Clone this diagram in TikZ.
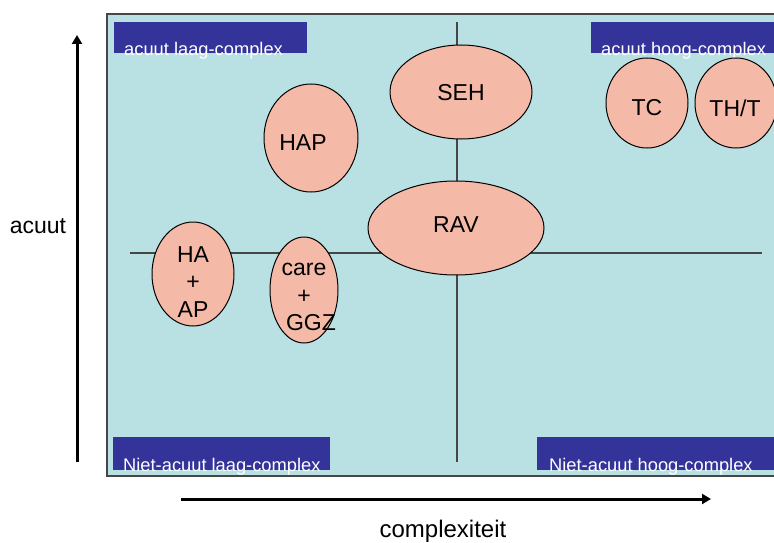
\documentclass[tikz,border=0pt]{standalone}
\usepackage{fontspec}
\setmainfont{Liberation Sans}
\usetikzlibrary{arrows.meta,shapes.geometric}
\definecolor{bgcyan}{RGB}{185,224,227}
\definecolor{boxblue}{RGB}{51,51,153}
\definecolor{salmon}{RGB}{245,185,168}
\definecolor{framegray}{RGB}{70,70,70}
\tikzset{
  oval/.style={ellipse, draw=black, line width=1pt, fill=salmon, inner sep=0pt},
  big/.style={font=\fontsize{23}{27.5}\selectfont, text=black, align=center, inner sep=0pt},
  quadbox/.style={fill=boxblue, draw=none},
  quadtext/.style={font=\fontsize{18.3}{20}\selectfont, text=white, anchor=base west, inner sep=0pt},
  axisline/.style={draw=framegray, line width=1.4pt},
  axisarrow/.style={draw=black, line width=3pt, -{Triangle[length=9pt,width=10pt]}}
}
\begin{document}
\begin{tikzpicture}[x=1pt,y=-1pt]
\useasboundingbox (0,0) rectangle (774,543);
\clip (0,0) rectangle (774,543);
% background panel
\fill[bgcyan] (107,14) rectangle (800,476);
\draw[framegray, line width=2pt] (800,14) -- (107,14) -- (107,476) -- (800,476);
% quadrant boxes
\fill[quadbox] (114,22) rectangle (307,53);
\fill[quadbox] (591,22) rectangle (800,53);
\fill[quadbox] (113,437) rectangle (330,470);
\fill[quadbox] (537,437) rectangle (800,470);
% cross lines
\coordinate (vtop) at (457,22);
\coordinate (vbot) at (457,462);
\coordinate (hl) at (130,253);
\coordinate (hr) at (762,253);
\draw[axisline] (vtop) -- (vbot);
\draw[axisline] (hl) -- (hr);
% quadrant labels
\node[quadtext] (ql1) at (124,56) {acuut laag-complex};
\node[quadtext] (ql2) at (601,56) {acuut hoog-complex};
\node[quadtext] (ql3) at (123,471) {Niet-acuut laag-complex};
\node[quadtext] (ql4) at (549,471) {Niet-acuut hoog-complex};
% ellipses
\node[oval, minimum width=142pt, minimum height=94pt] (seh) at (461,92) {};
\node[oval, minimum width=94pt, minimum height=108pt] (hap) at (311,138) {};
\node[oval, minimum width=176pt, minimum height=94pt] (rav) at (456,228) {};
\node[oval, minimum width=82pt, minimum height=104pt] (haap) at (193,274) {};
\node[oval, minimum width=68pt, minimum height=106pt] (care) at (304,290) {};
\node[oval, minimum width=82pt, minimum height=90pt] (tc) at (647,103) {};
\node[oval, minimum width=82pt, minimum height=90pt] (tht) at (736,103) {};
% ellipse texts
\node[big] (sehT) at (461,93) {SEH};
\node[big] (hapT) at (303,143) {HAP};
\node[big] (ravT) at (456,225) {RAV};
\node[big] (haapT) at (193,282) {HA\\+\\AP};
\node[big] (careT) at (304,297) {care\\+\\\hspace*{14pt}GGZ};
\node[big] (tcT) at (647,108) {TC};
\node[big] (thtT) at (735,108) {TH/T};
% axes
\coordinate (ya) at (77,462);
\coordinate (yb) at (77,35);
\coordinate (xa) at (181,499);
\coordinate (xb) at (711,499);
\draw[axisarrow] (ya) -- (yb);
\draw[axisarrow] (xa) -- (xb);
\node[big, anchor=base] (ylab) at (38,233) {acuut};
\node[big, anchor=base, font=\fontsize{24}{28}\selectfont] (xlab) at (443,537) {complexiteit};
\end{tikzpicture}
\end{document}
